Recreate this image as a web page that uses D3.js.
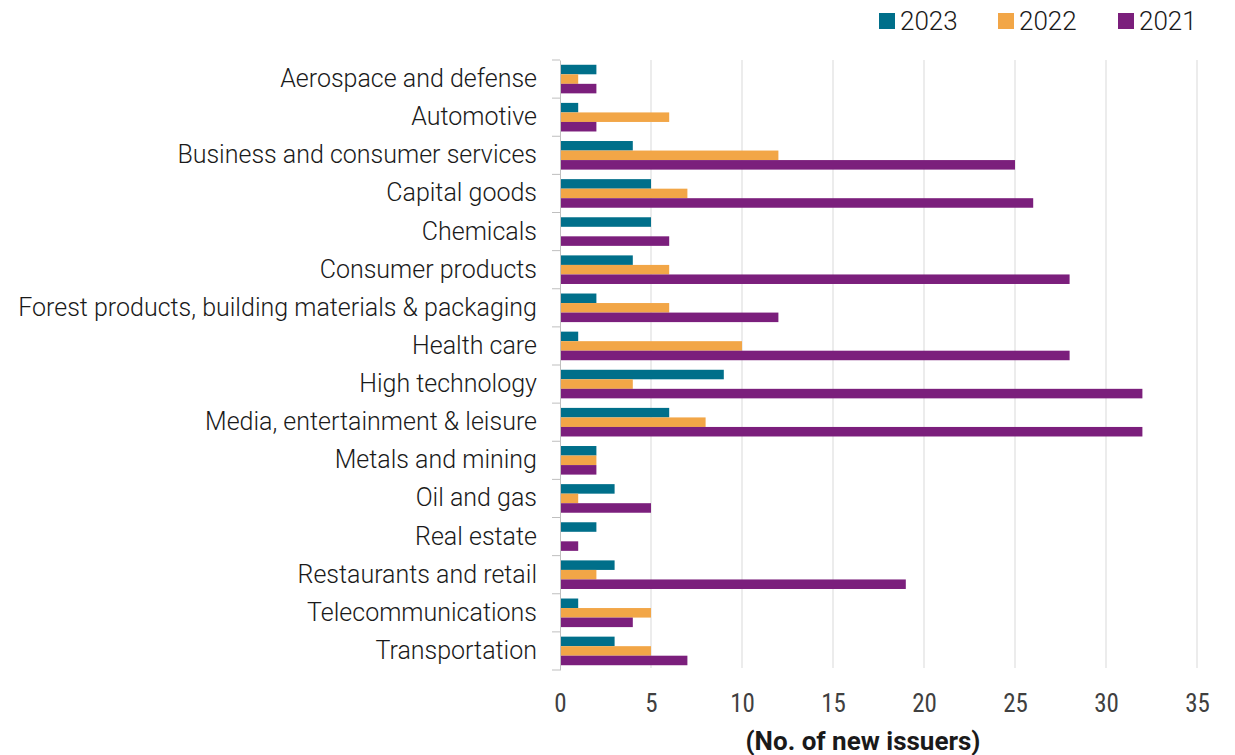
<!DOCTYPE html>
<html>
<head>
<meta charset="utf-8">
<script src="https://cdn.jsdelivr.net/npm/d3@7"></script>
<style>
  html, body { margin: 0; padding: 0; background: #fff; }
  svg { display: block; }
</style>
</head>
<body>
<svg id="chart" width="1235" height="755"></svg>
<script>
// New issuers by sector, per year
const categories = [
  "Aerospace and defense",
  "Automotive",
  "Business and consumer services",
  "Capital goods",
  "Chemicals",
  "Consumer products",
  "Forest products, building materials & packaging",
  "Health care",
  "High technology",
  "Media, entertainment & leisure",
  "Metals and mining ",
  "Oil and gas",
  "Real estate",
  "Restaurants and retail",
  "Telecommunications",
  "Transportation"
];
const seriesNames = ["2023", "2022", "2021"];
const values2023 = [2, 1, 4, 5, 5, 4, 2, 1, 9, 6, 2, 3, 2, 3, 1, 3];
const values2022 = [1, 6, 12, 7, 0, 6, 6, 10, 4, 8, 2, 1, 0, 2, 5, 5];
const values2021 = [2, 2, 25, 26, 6, 28, 12, 28, 32, 32, 2, 5, 1, 19, 4, 7];
const xTicks = [0, 5, 10, 15, 20, 25, 30, 35];
const colors = ["#006f8a", "#f2a647", "#7b1f7c"];

const seriesValues = [values2023, values2022, values2021];

const svg = d3.select("#chart");
const margin = { left: 560, right: 38, top: 60, bottom: 85 };
const W = 1235, H = 755;

const x = d3.scaleLinear().domain([0, 35]).range([margin.left, W - margin.right]);
const y = d3.scaleBand().domain(categories).range([margin.top, H - margin.bottom]);
const inner = d3.scaleBand().domain(seriesNames)
  .range([0, y.bandwidth()]).paddingOuter(0.5).paddingInner(0);

// vertical gridlines
svg.append("g")
  .selectAll("line")
  .data(xTicks.filter(t => t > 0))
  .join("line")
  .attr("x1", d => x(d)).attr("x2", d => x(d))
  .attr("y1", margin.top).attr("y2", H - margin.bottom - 2)
  .attr("stroke", "#d9d9d9").attr("stroke-width", 1);

// bars
const groups = svg.append("g")
  .selectAll("g")
  .data(categories)
  .join("g")
  .attr("transform", d => `translate(0,${y(d)})`);

groups.selectAll("rect")
  .data((d, i) => seriesNames.map((s, j) => ({ s, v: seriesValues[j][i], c: colors[j] })))
  .join("rect")
  .attr("x", x(0))
  .attr("y", d => inner(d.s))
  .attr("width", d => x(d.v) - x(0))
  .attr("height", inner.bandwidth())
  .attr("fill", d => d.c);

// category axis
const yAxis = svg.append("g")
  .attr("transform", `translate(${x(0)},0)`)
  .call(d3.axisLeft(y).tickSize(0).tickPadding(23));
yAxis.select(".domain").attr("stroke", "#bfbfbf");
yAxis.selectAll("text")
  .attr("font-family", "Roboto, sans-serif")
  .attr("font-weight", 300)
  .attr("font-size", "25px")
  .attr("fill", "#1a1a1a");

// boundary tick marks between categories
const bounds = categories.map(c => y(c)).concat([y.range()[1]]);
svg.append("g")
  .selectAll("line")
  .data(bounds)
  .join("line")
  .attr("x1", x(0) - 8).attr("x2", x(0))
  .attr("y1", d => d).attr("y2", d => d)
  .attr("stroke", "#bfbfbf").attr("stroke-width", 1);

// value axis labels
const xAxis = svg.append("g")
  .attr("transform", `translate(0,${H - margin.bottom})`)
  .call(d3.axisBottom(x).tickValues(xTicks).tickSize(0).tickPadding(24));
xAxis.select(".domain").remove();
xAxis.selectAll("text")
  .attr("font-family", "'Liberation Sans Narrow', 'Roboto Condensed', sans-serif")
  .attr("font-size", "25px")
  .attr("fill", "#404040");

// axis title
svg.append("text")
  .attr("x", 863).attr("y", 750)
  .attr("text-anchor", "middle")
  .attr("font-family", "Roboto, sans-serif")
  .attr("font-weight", "bold")
  .attr("font-size", "26px")
  .attr("fill", "#1a1a1a")
  .text("(No. of new issuers)");

// legend
const legendX = [879, 998, 1118];
const legend = svg.append("g")
  .selectAll("g")
  .data(seriesNames)
  .join("g")
  .attr("transform", (d, i) => `translate(${legendX[i]},13)`);
legend.append("rect")
  .attr("width", 16).attr("height", 16)
  .attr("fill", (d, i) => colors[i]);
legend.append("text")
  .attr("x", 21).attr("y", 17)
  .attr("font-family", "Roboto, sans-serif")
  .attr("font-weight", 300)
  .attr("font-size", "26px")
  .attr("fill", "#1a1a1a")
  .text(d => d);
</script>
</body>
</html>
